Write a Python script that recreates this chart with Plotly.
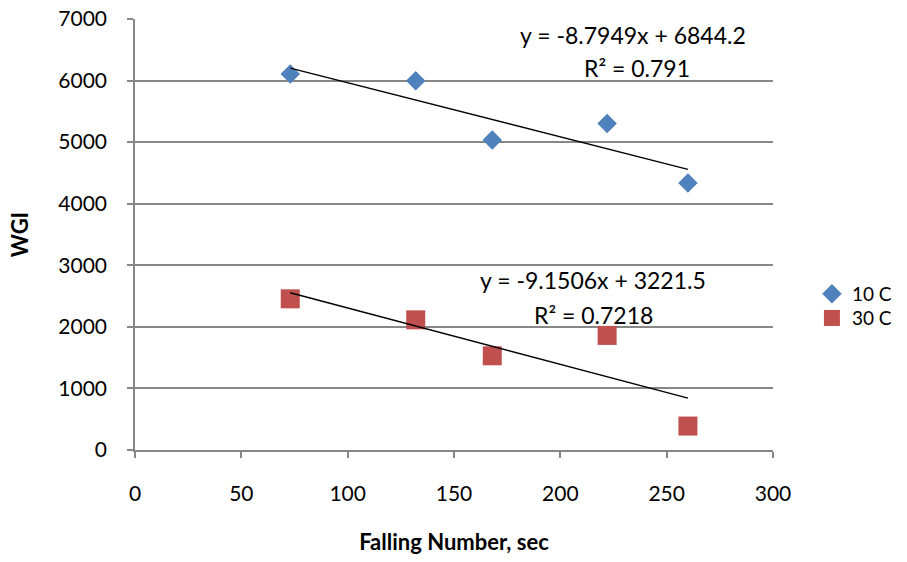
import plotly.graph_objects as go

# ---- data ----
falling_number = [73, 132, 168, 222, 260]
wgi_10c = [6106, 5999, 5035, 5301, 4337]
wgi_30c = [2455, 2114, 1530, 1861, 389]

trend_10c = {"slope": -8.7949, "intercept": 6844.2, "r2": "0.791"}
trend_30c = {"slope": -9.1506, "intercept": 3221.5, "r2": "0.7218"}

series_names = ["10 C", "30 C"]
x_title = "Falling Number, sec"
y_title = "WGI"

BLUE = "#4F81BD"
RED = "#C0504D"
GRID = "#878787"
FONT = "Lato, 'Open Sans', sans-serif"
FS = 21
FS_LEG = 19
FS_ANN = 23
FS_TITLE = 22

fig = go.Figure()

fig.add_trace(go.Scatter(
    x=falling_number, y=wgi_10c, mode="markers", name=series_names[0],
    marker=dict(symbol="diamond", size=15, color=BLUE, line=dict(width=0)),
    legend="legend",
))
fig.add_trace(go.Scatter(
    x=falling_number, y=wgi_30c, mode="markers", name=series_names[1],
    marker=dict(symbol="square", size=19, color=RED, line=dict(width=0)),
    legend="legend2",
))

# linear trendlines from the displayed equations
xmin, xmax = min(falling_number), max(falling_number)
for tr in (trend_10c, trend_30c):
    fig.add_trace(go.Scatter(
        x=[xmin, xmax],
        y=[tr["slope"] * xmin + tr["intercept"], tr["slope"] * xmax + tr["intercept"]],
        mode="lines", line=dict(color="black", width=1.5),
        showlegend=False, hoverinfo="skip",
    ))

def eq_text(tr):
    return f"y = {tr['slope']}x + {tr['intercept']}"

annots = [
    dict(x=234, y=6745, text=eq_text(trend_10c)),
    dict(x=236, y=6209, text=f"R² = {trend_10c['r2']}"),
    dict(x=215.4, y=2768, text=eq_text(trend_30c)),
    dict(x=215.4, y=2200, text=f"R² = {trend_30c['r2']}"),
]
for a in annots:
    fig.add_annotation(x=a["x"], y=a["y"], xref="x", yref="y", text=a["text"],
                       showarrow=False, xanchor="center", yanchor="middle",
                       font=dict(family=FONT, size=FS_ANN, color="black"))

legend_common = dict(xanchor="left", yanchor="middle",
                     font=dict(family=FONT, size=FS_LEG, color="black"),
                     bgcolor="rgba(0,0,0,0)")

fig.update_layout(
    width=907, height=562, autosize=False,
    paper_bgcolor="white", plot_bgcolor="white",
    margin=dict(l=135, r=134, t=19, b=112, autoexpand=False),
    font=dict(family=FONT, size=FS, color="black"),
    legend=dict(x=1.061, y=0.362, **legend_common),
    legend2=dict(x=1.061, y=0.306, **legend_common),
    showlegend=True,
)

fig.update_xaxes(
    range=[0, 300], dtick=50, tick0=0, showgrid=False, zeroline=False,
    showline=True, linecolor=GRID, linewidth=1.5,
    ticks="outside", ticklen=6, tickcolor=GRID, tickwidth=1.5,
    ticklabelstandoff=18, ticklabeloverflow="allow",
    tickfont=dict(family=FONT, size=FS, color="black"),
    title=dict(text=f"<b>{x_title}</b>", standoff=31,
               font=dict(family=FONT, size=FS_TITLE, color="black")),
)
fig.update_yaxes(
    range=[0, 7000], dtick=1000, tick0=0, showgrid=True, gridcolor=GRID, gridwidth=1.5,
    zeroline=False, showline=True, linecolor=GRID, linewidth=1.5,
    ticks="outside", ticklen=6, tickcolor=GRID, tickwidth=1.5,
    ticklabelstandoff=16, ticklabeloverflow="allow",
    tickfont=dict(family=FONT, size=FS, color="black"),
    title=dict(text=f"<b>{y_title}</b>", standoff=24,
               font=dict(family=FONT, size=FS_TITLE, color="black")),
)

fig.write_html("out.html", config={"displayModeBar": False},
               post_script="document.body.style.margin='0px';")
